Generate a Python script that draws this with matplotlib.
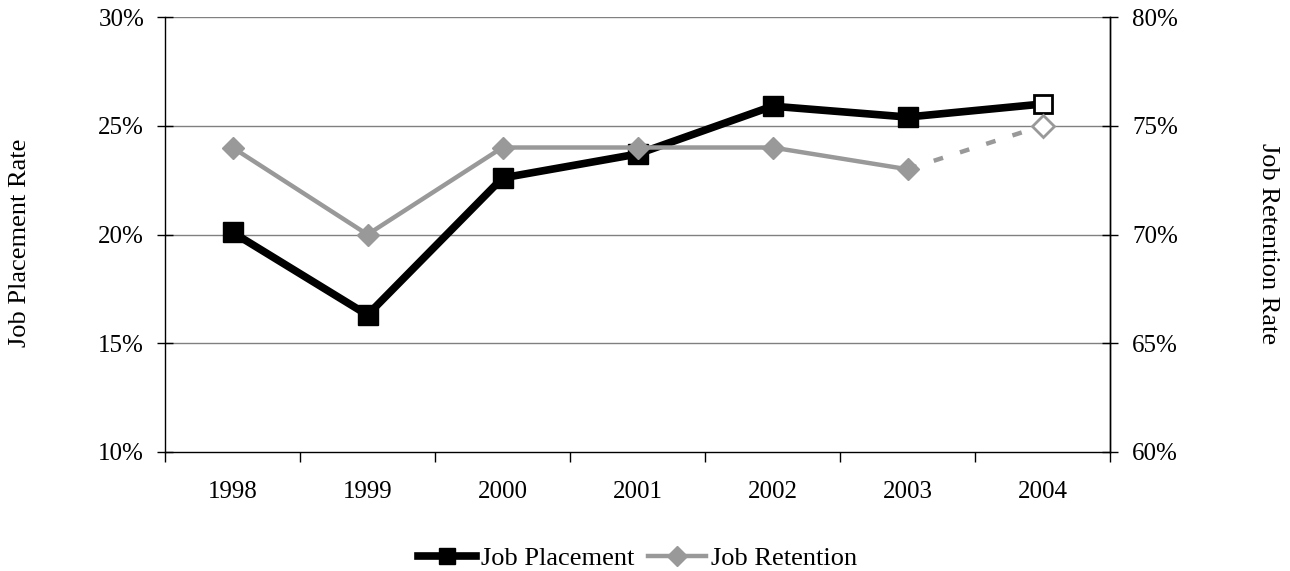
import matplotlib
matplotlib.use("Agg")
import matplotlib.pyplot as plt
from matplotlib.ticker import FixedLocator, FuncFormatter
from matplotlib.lines import Line2D

years = ["1998", "1999", "2000", "2001", "2002", "2003", "2004"]
placement = [20.1, 16.3, 22.6, 23.7, 25.9, 25.4, 26.0]
retention = [74, 70, 74, 74, 74, 73, 75]

plt.rcParams["font.family"] = ["Liberation Serif", "DejaVu Serif"]
plt.rcParams["font.size"] = 18

fig = plt.figure(figsize=(12.9, 5.71), dpi=100)
ax = fig.add_axes([165 / 1290, 1 - 452 / 571, 945 / 1290, 435 / 571])
ax2 = ax.twinx()

x = list(range(len(years)))
BLACK = "#000000"
GRAY = "#999999"

# Job placement (left axis)
ax.plot(x, placement, color=BLACK, lw=5.5, zorder=3)
ax.plot(x[:-1], placement[:-1], ls="none", marker="s", ms=14,
        mfc=BLACK, mec=BLACK, zorder=4)
ax.plot(x[-1:], placement[-1:], ls="none", marker="s", ms=13,
        mfc="white", mec=BLACK, mew=2, zorder=4)

# Job retention (right axis); final year is projected
ax2.plot(x[:-1], retention[:-1], color=GRAY, lw=3.2, zorder=3)
ax2.plot(x[-2:], retention[-2:], color=GRAY, lw=3.2, ls=(0, (2.2, 4.0)), zorder=3)
ax2.plot(x[:-1], retention[:-1], ls="none", marker="D", ms=11.5,
        mfc=GRAY, mec=GRAY, zorder=4)
ax2.plot(x[-1:], retention[-1:], ls="none", marker="D", ms=11,
        mfc="white", mec=GRAY, mew=2, zorder=4)

ax.set_xlim(-0.5, len(years) - 0.5)
ax.set_ylim(10, 30)
ax2.set_ylim(60, 80)

pct = FuncFormatter(lambda v, p: f"{v:.0f}%")
ax.yaxis.set_major_locator(FixedLocator([10, 15, 20, 25, 30]))
ax.yaxis.set_major_formatter(pct)
ax2.yaxis.set_major_locator(FixedLocator([60, 65, 70, 75, 80]))
ax2.yaxis.set_major_formatter(pct)

ax.set_xticks(x)
ax.set_xticklabels(years)
ax.set_xticks([i - 0.5 for i in range(len(years) + 1)], minor=True)
ax.tick_params(axis="x", which="major", length=0, pad=21)
ax.tick_params(axis="x", which="minor", length=7, width=1, direction="out")
ax.tick_params(axis="y", length=12, width=1, direction="inout", pad=9)
ax2.tick_params(axis="y", length=12, width=1, direction="inout", pad=10)

for v in [15, 20, 25, 30]:
    ax.axhline(v, color="#808080", lw=1, zorder=1)

for a in (ax, ax2):
    for s in a.spines.values():
        s.set_color(BLACK)
        s.set_linewidth(1)
    a.spines["top"].set_visible(False)
ax2.spines["bottom"].set_visible(False)
ax2.spines["left"].set_visible(False)

ax.set_ylabel("Job Placement Rate", fontsize=19, va="center")
ax.yaxis.set_label_coords((20 - 165) / 945, 0.48)
ax2.set_ylabel("Job Retention Rate", fontsize=19, rotation=270, va="center")
ax2.yaxis.set_label_coords((1268 - 165) / 945, 0.48)

handles = [
    Line2D([], [], color=BLACK, lw=5.5, marker="s", ms=12),
    Line2D([], [], color=GRAY, lw=3.2, marker="D", ms=10),
]
fig.legend(handles, ["Job Placement", "Job Retention"], loc="center",
           bbox_to_anchor=(637.5 / 1290, 1 - 558 / 571), ncol=2, frameon=False,
           fontsize=19, handlelength=2.2, handletextpad=0.2,
           columnspacing=0.5, borderaxespad=0)

fig.savefig("out.png", dpi=100)
